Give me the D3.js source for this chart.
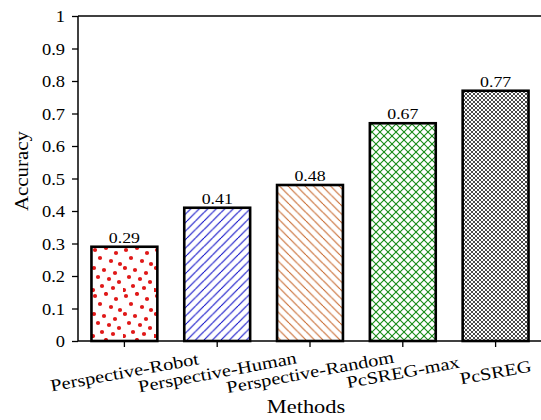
<!DOCTYPE html>
<html>
<head>
<meta charset="utf-8">
<script src="https://cdn.jsdelivr.net/npm/d3@7"></script>
<style>
  body { margin: 0; background: #fff; }
  text { font-family: "Liberation Serif", "Times New Roman", serif; fill: #000; }
</style>
</head>
<body>
<svg id="chart" width="541" height="420"></svg>
<script>
/*** DATA ***/
const methods = ["Perspective-Robot", "Perspective-Human", "Perspective-Random", "PcSREG-max", "PcSREG"];
const accuracy = [0.29, 0.41, 0.48, 0.67, 0.77];
const yTicks = [0, 0.1, 0.2, 0.3, 0.4, 0.5, 0.6, 0.7, 0.8, 0.9, 1];
const patternIds = ["dots", "slashBlue", "backOrange", "crossGreen", "crossGray"];

/*** LAYOUT ***/
const plotL = 78, plotR = 541, plotT = 16, plotB = 341;
const stretch = "scale(1.15,1)";

const svg = d3.select("#chart");

const x = d3.scaleBand()
  .domain(methods)
  .range([plotL, plotR + 1])
  .paddingInner(0.29)
  .paddingOuter(0.145);

const y = d3.scaleLinear()
  .domain([0, 1])
  .range([plotB, plotT]);

/*** PATTERNS ***/
const defs = svg.append("defs");

// scattered red dots
const dotPos = [[3,4],[14,2],[24,7],[8,12],[19,15],[28,18],[2,22],[12,24],[23,27],[6,31],[17,33],[27,36],[10,40],[21,42],[1,44]];
const pDots = defs.append("pattern").attr("id", "dots")
  .attr("patternUnits", "userSpaceOnUse").attr("width", 31).attr("height", 46)
  .attr("x", 92).attr("y", 246);
pDots.append("rect").attr("width", 31).attr("height", 46).attr("fill", "#fff");
pDots.selectAll("circle").data(dotPos).enter().append("circle")
  .attr("cx", d => d[0]).attr("cy", d => d[1]).attr("r", 2.1)
  .attr("fill", "#e01818");

function linePattern(id, size, color, dirs, width) {
  const p = defs.append("pattern").attr("id", id)
    .attr("patternUnits", "userSpaceOnUse").attr("width", size).attr("height", size);
  p.append("rect").attr("width", size).attr("height", size).attr("fill", "#fff");
  dirs.forEach(dir => {
    const s = size;
    const segs = dir === "/"
      ? [[0, s, s, 0], [-s, s, 0, 0], [s, s, 2 * s, 0]]
      : [[0, 0, s, s], [-s, 0, 0, s], [s, 0, 2 * s, s]];
    segs.forEach(g => {
      p.append("line").attr("x1", g[0]).attr("y1", g[1]).attr("x2", g[2]).attr("y2", g[3])
        .attr("stroke", color).attr("stroke-width", width);
    });
  });
}

linePattern("slashBlue", 8.5, "#1010c8", ["/"], 1.1);
linePattern("backOrange", 8.5, "#c8692e", ["\\"], 1.1);
linePattern("crossGreen", 8, "#148a14", ["/", "\\"], 1.1);
linePattern("crossGray", 4, "#4a4a4a", ["/", "\\"], 1.0);

/*** BARS ***/
const bars = methods.map((m, i) => ({ name: m, value: accuracy[i], pat: patternIds[i] }));

svg.selectAll("rect.bar")
  .data(bars)
  .enter()
  .append("rect")
    .attr("class", "bar")
    .attr("x", d => x(d.name))
    .attr("y", d => y(d.value))
    .attr("width", x.bandwidth())
    .attr("height", d => y(0) - y(d.value))
    .attr("fill", d => "url(#" + d.pat + ")")
    .attr("stroke", "#000")
    .attr("stroke-width", 2.6);

svg.selectAll("text.val")
  .data(bars)
  .enter()
  .append("text")
    .attr("class", "val")
    .attr("text-anchor", "middle")
    .attr("font-size", 15.5)
    .attr("transform", d => "translate(" + (x(d.name) + x.bandwidth() / 2) + "," + (y(d.value) - 4) + ") " + stretch)
    .text(d => d.value.toFixed(2));

/*** AXES ***/
// top frame line
svg.append("line")
  .attr("x1", plotL).attr("x2", plotR).attr("y1", plotT).attr("y2", plotT)
  .attr("stroke", "#000").attr("stroke-width", 1.5);

const yAxis = svg.append("g")
  .attr("transform", "translate(" + plotL + ",0)")
  .call(d3.axisLeft(y).tickValues(yTicks).tickSize(6).tickFormat(d3.format("")));
yAxis.select(".domain").attr("stroke-width", 1.5).attr("d", "M0," + plotT + "V" + plotB);
yAxis.selectAll(".tick line").attr("stroke-width", 1.3);
yAxis.selectAll(".tick text")
  .attr("font-size", 16.5)
  .attr("font-family", "Liberation Serif")
  .attr("dy", "0.35em")
  .attr("x", 0)
  .attr("transform", "translate(-13,0) scale(1.12,1)");

const xAxis = svg.append("g")
  .attr("transform", "translate(0," + plotB + ")")
  .call(d3.axisBottom(x).tickSize(6).tickSizeOuter(0));
xAxis.select(".domain").attr("stroke-width", 1.5).attr("d", "M" + plotL + ",0H" + plotR);
xAxis.selectAll(".tick line").attr("stroke-width", 1.3);
xAxis.selectAll(".tick text")
  .attr("font-size", 17)
  .attr("font-family", "Liberation Serif")
  .attr("text-anchor", "middle")
  .attr("y", 0)
  .attr("dy", "0.35em")
  .attr("transform", "translate(0,31) rotate(-10.5) scale(1.2,1)");

/*** AXIS TITLES ***/
svg.append("text")
  .attr("text-anchor", "middle")
  .attr("font-size", 19)
  .attr("transform", "translate(28,171) rotate(-90) scale(1.1,1)")
  .text("Accuracy");

svg.append("text")
  .attr("text-anchor", "middle")
  .attr("font-size", 19)
  .attr("transform", "translate(306,413) scale(1.18,1)")
  .text("Methods");
</script>
</body>
</html>
